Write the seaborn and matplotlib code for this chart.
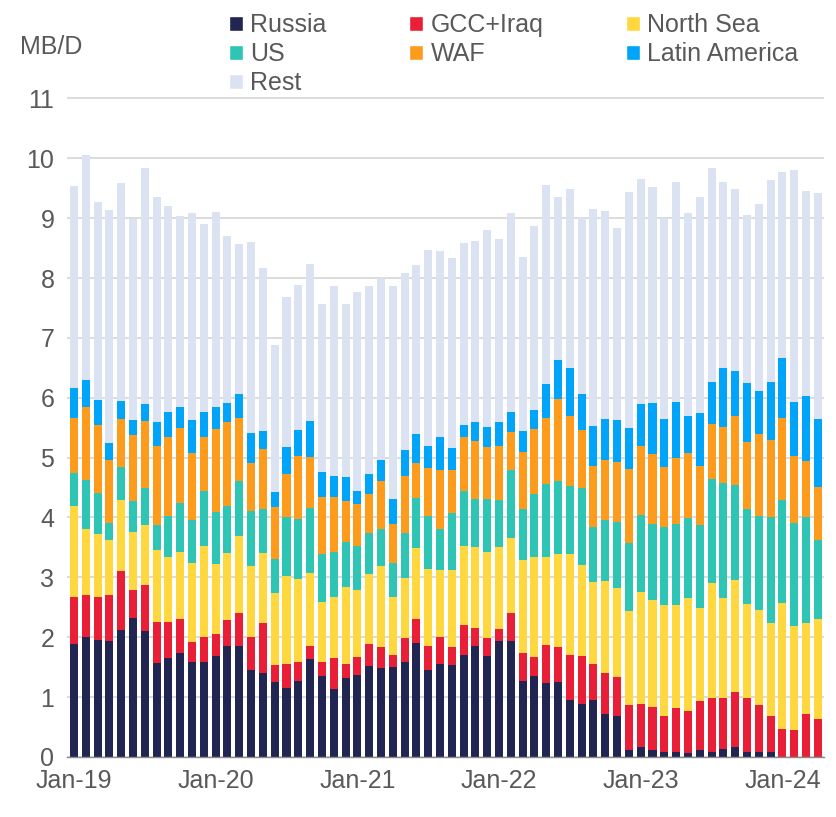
import numpy as np
import pandas as pd
import matplotlib
matplotlib.use('Agg')
import matplotlib.pyplot as plt
import seaborn as sns
from matplotlib.patches import Patch

# Monthly categories Jan-19 .. Apr-24
months = pd.date_range('2019-01-01', periods=64, freq='MS').strftime('%b-%y').tolist()

# Values in MB/D (bottom to top of each stack)
russia = [1.89, 2.00, 1.96, 1.94, 2.12, 2.32, 2.11, 1.57, 1.66, 1.74, 1.59, 1.59,
          1.69, 1.86, 1.86, 1.46, 1.40, 1.26, 1.16, 1.27, 1.63, 1.36, 1.14, 1.32,
          1.37, 1.52, 1.49, 1.50, 1.58, 1.91, 1.46, 1.56, 1.53, 1.71, 1.86, 1.68,
          1.94, 1.94, 1.27, 1.36, 1.24, 1.26, 0.95, 0.89, 0.95, 0.71, 0.68, 0.11,
          0.16, 0.11, 0.09, 0.08, 0.07, 0.12, 0.09, 0.14, 0.16, 0.09, 0.08, 0.09,
          0.00, 0.00, 0.00, 0.00]
gcc_iraq = [0.78, 0.70, 0.72, 0.77, 0.98, 0.47, 0.77, 0.69, 0.59, 0.57, 0.33, 0.42,
            0.36, 0.42, 0.55, 0.55, 0.84, 0.27, 0.40, 0.32, 0.23, 0.23, 0.51, 0.23,
            0.30, 0.37, 0.34, 0.20, 0.40, 0.40, 0.40, 0.45, 0.30, 0.50, 0.30, 0.30,
            0.20, 0.46, 0.47, 0.31, 0.63, 0.58, 0.75, 0.80, 0.60, 0.70, 0.66, 0.76,
            0.73, 0.73, 0.60, 0.74, 0.69, 0.82, 0.89, 0.84, 0.92, 0.89, 0.78, 0.59,
            0.46, 0.45, 0.72, 0.64]
north_sea = [1.53, 1.11, 1.04, 0.91, 1.19, 0.96, 0.99, 1.19, 1.09, 1.12, 1.32, 1.52,
             1.17, 1.12, 1.28, 1.18, 1.16, 1.21, 1.47, 1.39, 1.21, 1.00, 1.03, 1.29,
             1.12, 1.17, 1.36, 0.97, 1.01, 1.18, 1.28, 1.11, 1.30, 1.31, 1.34, 1.45,
             1.36, 1.26, 1.55, 1.67, 1.47, 1.55, 1.69, 1.51, 1.38, 1.53, 1.48, 1.57,
             1.86, 1.78, 1.84, 1.72, 1.89, 1.55, 1.92, 1.68, 1.87, 1.57, 1.59, 1.56,
             2.11, 1.74, 1.52, 1.66]
us = [0.54, 0.82, 0.69, 0.29, 0.55, 0.52, 0.62, 0.43, 0.68, 0.81, 0.72, 0.91,
      0.87, 0.79, 0.92, 0.92, 0.74, 0.56, 0.97, 1.00, 1.09, 0.80, 0.74, 0.75,
      0.74, 0.68, 0.62, 0.57, 0.75, 0.83, 0.88, 0.69, 0.94, 0.92, 0.81, 0.88,
      0.80, 1.13, 0.85, 1.05, 1.22, 1.22, 1.14, 1.29, 0.91, 1.01, 1.11, 1.13,
      1.29, 1.27, 1.31, 1.35, 1.34, 1.39, 1.75, 1.91, 1.59, 1.59, 1.57, 1.77,
      1.73, 1.72, 1.77, 1.32]
waf = [0.93, 1.22, 1.14, 1.05, 0.80, 1.10, 1.12, 1.31, 1.33, 1.26, 1.12, 0.91,
       1.39, 1.40, 1.05, 0.80, 1.00, 0.88, 0.72, 1.04, 0.85, 0.95, 0.92, 0.68,
       0.69, 0.65, 0.80, 0.65, 0.95, 0.59, 0.81, 0.99, 0.72, 0.90, 0.96, 0.86,
       0.90, 0.64, 0.95, 1.09, 1.11, 1.37, 1.17, 0.97, 1.02, 1.01, 1.00, 1.24,
       1.15, 1.17, 1.01, 1.10, 1.09, 0.98, 0.91, 0.94, 1.15, 1.12, 1.38, 1.28,
       1.37, 1.12, 0.93, 0.89]
latin_america = [0.49, 0.44, 0.42, 0.29, 0.31, 0.26, 0.28, 0.40, 0.41, 0.34, 0.55, 0.41,
                 0.36, 0.33, 0.41, 0.50, 0.30, 0.24, 0.46, 0.44, 0.60, 0.42, 0.35, 0.41,
                 0.23, 0.33, 0.35, 0.42, 0.43, 0.48, 0.36, 0.55, 0.37, 0.21, 0.32, 0.34,
                 0.39, 0.34, 0.35, 0.32, 0.56, 0.65, 0.80, 0.61, 0.66, 0.68, 0.70, 0.68,
                 0.70, 0.85, 0.79, 0.94, 0.62, 0.89, 0.70, 0.98, 0.75, 0.98, 0.72, 0.97,
                 1.00, 0.90, 1.09, 1.13]
rest = [3.37, 3.77, 3.30, 3.89, 3.64, 3.36, 3.94, 3.77, 3.45, 3.20, 3.46, 3.15,
        3.26, 2.79, 2.49, 3.20, 2.72, 2.46, 2.50, 2.43, 2.63, 2.80, 3.18, 2.88,
        3.31, 3.14, 3.04, 3.56, 2.97, 2.82, 3.28, 3.10, 3.18, 3.04, 3.03, 3.30,
        3.07, 3.32, 2.91, 3.07, 3.33, 2.72, 2.99, 2.95, 3.64, 3.48, 3.21, 3.95,
        3.77, 3.61, 3.36, 3.68, 3.39, 3.61, 3.58, 3.12, 3.05, 2.81, 3.11, 3.38,
        3.10, 3.87, 3.43, 3.78]

series_names = ['Russia', 'GCC+Iraq', 'North Sea', 'US', 'WAF', 'Latin America', 'Rest']
series_colors = ['#212551', '#e81f36', '#fed83e', '#2ec5b5', '#fd9c1c', '#00a5f9', '#dbe3f2']
tick_labels = ['Jan-19', 'Jan-20', 'Jan-21', 'Jan-22', 'Jan-23', 'Jan-24']

df = pd.DataFrame({'Month': months, 'Russia': russia, 'GCC+Iraq': gcc_iraq,
                   'North Sea': north_sea, 'US': us, 'WAF': waf,
                   'Latin America': latin_america, 'Rest': rest})
stacked = df[series_names].cumsum(axis=1)

sns.set_style('white')
plt.rcParams['font.family'] = ['Liberation Sans', 'DejaVu Sans']
text_color = '#595959'
fs = 18

fig = plt.figure(figsize=(8.36, 8.17), dpi=100)
ax = fig.add_axes([0.080, 0.0735, 0.906, 0.8075])

# Stacked bars: draw running totals from the top series down
for name, color in zip(reversed(series_names), reversed(series_colors)):
    sns.barplot(x=df['Month'], y=stacked[name], color=color, width=0.68,
                saturation=1, errorbar=None, linewidth=0, ax=ax, zorder=2)

ax.set_xlim(-0.6, 63.55)
ax.set_ylim(0, 11.02)
ax.set_yticks(range(0, 12))
ax.set_yticklabels([str(v) for v in range(0, 12)])
ax.yaxis.grid(True, color='#d9d9d9', linewidth=1.3)
ax.set_axisbelow(True)
ax.tick_params(axis='y', length=0, pad=9, labelsize=fs, labelcolor=text_color)

jan_idx = [months.index(t) for t in tick_labels]
ax.set_xticks([i - 0.5 for i in jan_idx])
ax.set_xticklabels([])
ax.set_xticks(jan_idx, minor=True)
ax.set_xticklabels(tick_labels, minor=True)
ax.tick_params(axis='x', which='major', length=7, width=1, color='#8c8c8c', direction='out')
ax.tick_params(axis='x', which='minor', length=0, pad=9, labelsize=fs, labelcolor=text_color)
ax.set_xlabel('')
ax.set_ylabel('')

for s in ['left', 'top', 'right']:
    ax.spines[s].set_visible(False)
ax.spines['bottom'].set_color('#8c8c8c')
ax.spines['bottom'].set_linewidth(1)

fig.text(0.024, 0.943, 'MB/D', fontsize=fs, color=text_color, va='center')

# Legend: 3 columns, filled row-wise
handles = {n: Patch(facecolor=c, label=n) for n, c in zip(series_names, series_colors)}
order = ['Russia', 'US', 'Rest', 'GCC+Iraq', 'WAF', 'North Sea', 'Latin America']
fig.legend(handles=[handles[n] for n in order], loc='upper left',
           bbox_to_anchor=(0.268, 0.99), ncol=3, frameon=False, fontsize=fs,
           labelcolor=text_color, handlelength=0.55, handleheight=0.55,
           handletextpad=0.3, columnspacing=3.3, labelspacing=0.2,
           borderpad=0.2, borderaxespad=0)

fig.savefig('out.png', dpi=100)
